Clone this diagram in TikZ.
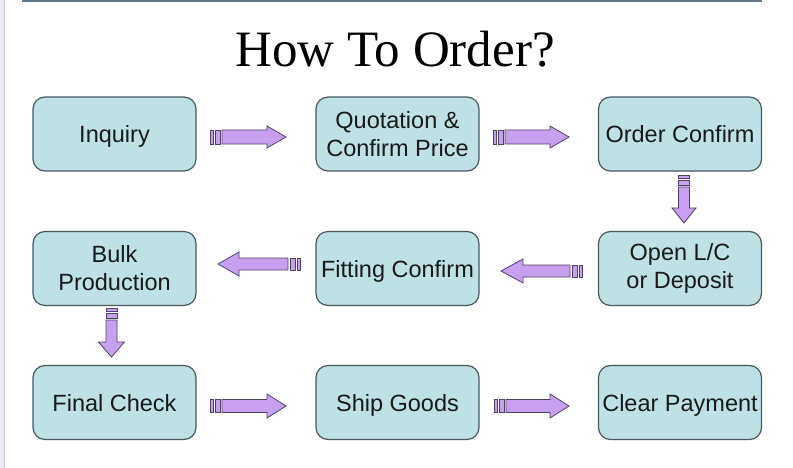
\documentclass[tikz,border=0pt]{standalone}
\usepackage{fontspec}
\setmainfont{Liberation Serif}
\setsansfont{Liberation Sans}
\definecolor{boxfill}{RGB}{190,225,230}
\definecolor{boxline}{RGB}{72,88,94}
\definecolor{arrfill}{RGB}{200,160,240}
\definecolor{arrline}{RGB}{80,64,100}
\definecolor{topline}{RGB}{92,122,136}
\definecolor{sidestrip}{RGB}{232,236,240}
\tikzset{
  stepbox/.style={draw=boxline, fill=boxfill, line width=1.2pt, rounded corners=12pt,
    minimum width=163pt, minimum height=74pt, inner sep=0pt, align=center,
    font=\sffamily\fontsize{23.5}{28}\selectfont, text=black!90},
  oneline/.style={text height=17pt, text depth=0pt},
  arrstyle/.style={fill=arrfill, draw=arrline, line width=0.8pt, line join=miter}
}
% #1 x, #2 y, #3 rotation, #4 length, #5 head base, #6 shaft half, #7 head half
\newcommand\stripedarrow[7]{%
  \begin{scope}[shift={(#1pt,-#2pt)}, rotate=#3]
    \filldraw[arrstyle] (0pt,-#6pt) rectangle (3pt,#6pt);
    \filldraw[arrstyle] (5pt,-#6pt) rectangle (10pt,#6pt);
    \filldraw[arrstyle] (12pt,-#6pt) -- (#5pt,-#6pt) -- (#5pt,-#7pt) -- (#4pt,0pt)
       -- (#5pt,#7pt) -- (#5pt,#6pt) -- (12pt,#6pt) -- cycle;
  \end{scope}}
\begin{document}
\begin{tikzpicture}[x=1pt,y=1pt]
\useasboundingbox (0,0) rectangle (793,-468);
\fill[white] (0,0) rectangle (793,-468);
\fill[sidestrip] (0,0) rectangle (4,-468);
\draw[gray!40, line width=0.5pt] (4,0) -- (4,-468);
\fill[topline] (22,0) rectangle (762,-2.5);

\node[anchor=base, font=\fontsize{51}{56}\selectfont, text=black] (title) at (395,-67) {How To Order?};

\node[stepbox, oneline] (b1) at (114.5,-134) {Inquiry};
\node[stepbox] (b2) at (397.5,-134) {Quotation \&\\Confirm Price};
\node[stepbox, oneline] (b3) at (680,-134) {Order Confirm};
\node[stepbox] (b4) at (114.5,-268.5) {Bulk\\Production};
\node[stepbox, oneline] (b5) at (397.5,-268.5) {Fitting Confirm};
\node[stepbox] (b6) at (680,-268.5) {Open L/C\\or Deposit};
\node[stepbox, oneline] (b7) at (114.5,-402.5) {Final Check};
\node[stepbox, oneline] (b8) at (397.5,-402.5) {Ship Goods};
\node[stepbox, oneline] (b9) at (680,-402.5) {Clear Payment};

% row 1
\stripedarrow{210}{137}{0}{76}{57}{7}{11}
\stripedarrow{493}{137}{0}{76}{57}{7}{11}
% down right
\stripedarrow{684}{175}{-90}{48}{33}{5.5}{12}
% row 2 (leftwards)
\stripedarrow{582}{271}{180}{81}{59}{6}{12}
\stripedarrow{300}{264}{180}{82}{61}{6}{12}
% down left
\stripedarrow{111.5}{308}{-90}{49}{34}{5.5}{13}
% row 3
\stripedarrow{210}{406}{0}{76}{57}{6.5}{12}
\stripedarrow{494}{406}{0}{75}{56}{6.5}{12}
\end{tikzpicture}
\end{document}
